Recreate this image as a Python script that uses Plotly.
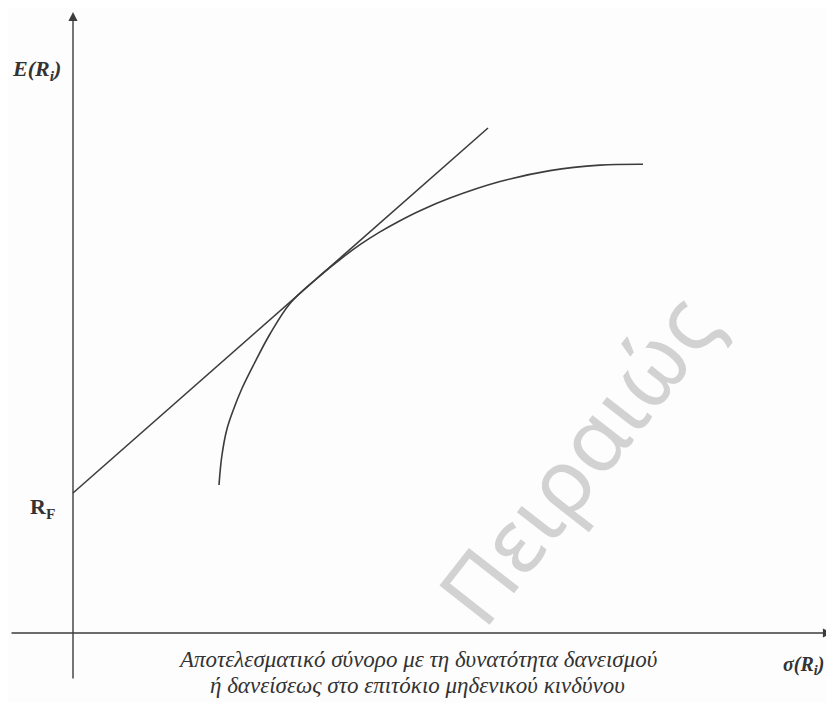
import plotly.graph_objects as go

# Efficient frontier (risky assets): sigma, expected return
frontier_sigma = [14.6, 14.87, 15.37, 16.03, 16.87, 18.1, 19.7, 21.7, 24.2, 26.7,
                  28.7, 30.7, 32.7, 34.7, 37.7, 42.7, 47.7, 52.7, 57.0]
frontier_ret = [14.8, 17.6, 20.3, 22.3, 24.4, 26.9, 29.9, 32.95, 35.3, 37.35,
                38.83, 40.11, 41.23, 42.23, 43.49, 45.14, 46.24, 46.79, 46.88]

# Capital line from the risk-free rate
cml_sigma = [0.0, 41.5]
cml_ret = [14.0, 50.5]

# Axis extents
x_axis_from, x_axis_to = -6.3, 75.9
y_axis_from, y_axis_to = -4.7, 62.1

line_color = "#3c3c3c"
text_color = "#333333"
serif = "Liberation Serif"

fig = go.Figure()
fig.add_trace(go.Scatter(x=cml_sigma, y=cml_ret, mode="lines",
                         line=dict(color=line_color, width=1.6), hoverinfo="skip"))
fig.add_trace(go.Scatter(x=frontier_sigma, y=frontier_ret, mode="lines",
                         line=dict(color=line_color, width=1.6, shape="spline", smoothing=1.0),
                         hoverinfo="skip"))

annotations = [
    # axes with arrows
    dict(x=x_axis_to, y=0, ax=x_axis_from, ay=0, xref="x", yref="y", axref="x", ayref="y",
         showarrow=True, arrowhead=2, arrowsize=1.3, arrowwidth=1.4, arrowcolor=line_color, text=""),
    dict(x=0, y=y_axis_to, ax=0, ay=y_axis_from, xref="x", yref="y", axref="x", ayref="y",
         showarrow=True, arrowhead=2, arrowsize=1.3, arrowwidth=1.4, arrowcolor=line_color, text=""),
    # watermark
    dict(x=50.3, y=17.6, xref="x", yref="y", text="Πειραιώς", showarrow=False,
         textangle=-52, font=dict(family="Noto Sans", size=89, color="#d2d2d2")),
    # labels
    dict(x=-3.7, y=56.3, xref="x", yref="y", text="<b><i>E(R<sub>i</sub>)</i></b>",
         showarrow=False, font=dict(family=serif, size=22, color=text_color)),
    dict(x=-3.1, y=12.5, xref="x", yref="y", text="<b>R<sub>F</sub></b>",
         showarrow=False, font=dict(family=serif, size=22, color=text_color)),
    dict(x=73.0, y=-3.2, xref="x", yref="y", text="<b><i>σ(R<sub>i</sub>)</i></b>",
         showarrow=False, font=dict(family=serif, size=20, color=text_color)),
    dict(x=34.4, y=-2.6, xref="x", yref="y",
         text="<i>Αποτελεσματικό σύνορο με τη δυνατότητα δανεισμού</i>",
         showarrow=False, font=dict(family=serif, size=23, color=text_color)),
    dict(x=34.4, y=-5.2, xref="x", yref="y",
         text="<i>ή δανείσεως στο επιτόκιο μηδενικού κινδύνου</i>",
         showarrow=False, font=dict(family=serif, size=23, color=text_color)),
]

# The page adds an 8px body margin, so the figure is 8px smaller and the ranges start there
fig.update_layout(
    width=826, height=695,
    margin=dict(l=0, r=0, t=0, b=0),
    paper_bgcolor="#fdfdfd", plot_bgcolor="#fdfdfd",
    showlegend=False,
    xaxis=dict(range=[-6.5, 76.1], visible=False, fixedrange=True),
    yaxis=dict(range=[-7.0, 62.5], visible=False, fixedrange=True),
    annotations=annotations,
)

fig.write_html("out.html")
